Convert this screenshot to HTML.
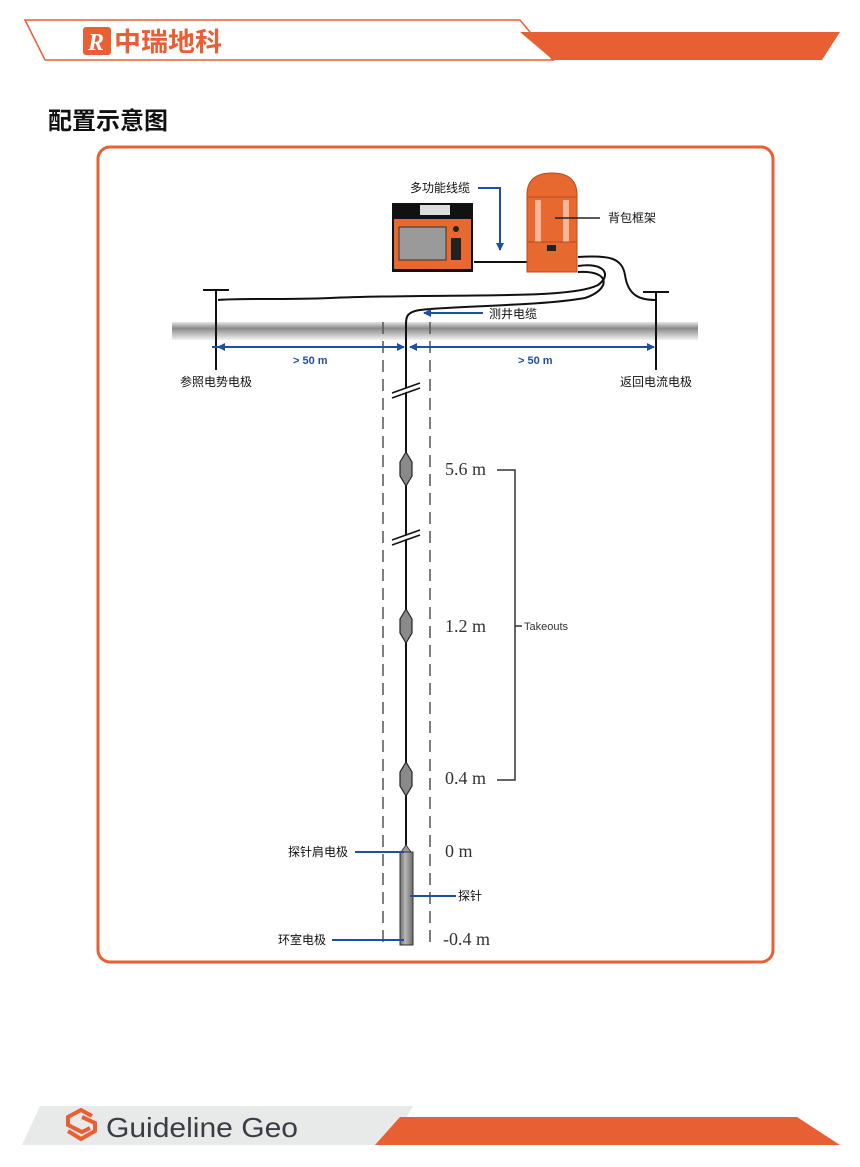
<!DOCTYPE html>
<html><head><meta charset="utf-8"><style>
html,body{margin:0;padding:0;background:#fff;}
svg{display:block;}
.cn{font-family:"Liberation Sans","Noto Sans CJK SC",sans-serif;}
</style></head><body>
<svg width="860" height="1167" viewBox="0 0 860 1167" xmlns="http://www.w3.org/2000/svg">
<defs>
<linearGradient id="gnd" x1="0" y1="0" x2="0" y2="1">
<stop offset="0" stop-color="#e6e6e6"/><stop offset="0.35" stop-color="#8a8a8a"/><stop offset="1" stop-color="#f2f2f2"/>
</linearGradient>
<linearGradient id="probe" x1="0" y1="0" x2="1" y2="0">
<stop offset="0" stop-color="#6c6c6c"/><stop offset="0.4" stop-color="#b8b8b8"/><stop offset="1" stop-color="#6a6a6a"/>
</linearGradient>
<marker id="ah" markerWidth="8" markerHeight="8" refX="7" refY="4" orient="auto" markerUnits="userSpaceOnUse">
<path d="M0,0 L8,4 L0,8 Z" fill="#1f4fa0"/></marker>
</defs>
<polygon points="520,32 840,32 822,60 553,60" fill="#e85f33"/>
<polygon points="25,20 520,20 553,60 45,60" fill="none" stroke="#e85f33" stroke-width="1.5"/>
<rect x="83" y="27" width="28" height="28" rx="3" fill="#e85f33"/>
<text x="88" y="50" font-family="Liberation Serif,serif" font-style="italic" font-weight="bold" font-size="24" fill="#fff">R</text>
<text x="114" y="51" class="cn" font-size="26" font-weight="bold" fill="#e85f33" textLength="108" lengthAdjust="spacingAndGlyphs">中瑞地科</text>
<text x="48" y="129" class="cn" font-size="24" font-weight="bold" fill="#111">配置示意图</text>
<rect x="98" y="147" width="675" height="815" rx="12" fill="#fff" stroke="#e85f33" stroke-width="3"/>
<rect x="172" y="322" width="526" height="18" fill="url(#gnd)"/>
<line x1="383" y1="322" x2="383" y2="946" stroke="#555" stroke-width="1.5" stroke-dasharray="12,7"/>
<line x1="430" y1="322" x2="430" y2="946" stroke="#555" stroke-width="1.5" stroke-dasharray="12,7"/>
<line x1="203" y1="290" x2="229" y2="290" stroke="#111" stroke-width="2"/>
<line x1="216" y1="290" x2="216" y2="370" stroke="#111" stroke-width="2"/>
<line x1="643" y1="292" x2="669" y2="292" stroke="#111" stroke-width="2"/>
<line x1="656" y1="292" x2="656" y2="370" stroke="#111" stroke-width="2"/>
<g fill="none" stroke="#111" stroke-width="2">
<path d="M578,257 C610,255 622,258 625,275 C628,296 640,300 656,300"/>
<path d="M578,266 C605,262 612,275 598,285 C570,300 450,293 330,298 C280,300 240,298 218,300"/>
<path d="M578,272 C612,270 610,290 585,298 C540,306 450,306 420,310 C406,312 406,318 406,324"/>
<line x1="474" y1="262" x2="527" y2="262"/>
<line x1="406" y1="322" x2="406" y2="848"/>
</g>
<g stroke="#111" stroke-width="1.5" fill="#fff">
<polygon points="392,393 420,383 420,387 392,397" stroke="none"/>
<line x1="392" y1="393" x2="420" y2="383"/><line x1="392" y1="398" x2="420" y2="388"/>
<polygon points="392,540 420,530 420,534 392,544" stroke="none"/>
<line x1="392" y1="540" x2="420" y2="530"/><line x1="392" y1="545" x2="420" y2="535"/>
</g>
<g fill="#8a8a8a" stroke="#222" stroke-width="1.2">
<polygon points="406,452 412,462 412,476 406,486 400,476 400,462"/>
<polygon points="406,609 412,619 412,633 406,643 400,633 400,619"/>
<polygon points="406,762 412,772 412,786 406,796 400,786 400,772"/>
</g>
<polygon points="401,852 406,845 411,852" fill="#999" stroke="#444"/>
<rect x="400" y="852" width="13" height="93" fill="url(#probe)" stroke="#333" stroke-width="1"/>
<g font-family="Liberation Serif,serif" font-size="18" fill="#333">
<text x="445" y="475">5.6 m</text><text x="445" y="632">1.2 m</text><text x="445" y="784">0.4 m</text>
<text x="445" y="857">0 m</text><text x="443" y="945">-0.4 m</text>
</g>
<path d="M497,470 H515 V780 H497 M515,626 H522" fill="none" stroke="#333" stroke-width="1.5"/>
<text x="524" y="630" font-family="Liberation Sans,sans-serif" font-size="11" fill="#333">Takeouts</text>
<rect x="392" y="203" width="81" height="69" fill="#111"/>
<rect x="420" y="205" width="30" height="10" fill="#ddd"/>
<rect x="394" y="219" width="77" height="50" fill="#e8692f"/>
<rect x="399" y="227" width="47" height="33" fill="#9a9a9a" stroke="#333"/>
<circle cx="456" cy="229" r="3" fill="#222"/>
<rect x="451" y="238" width="10" height="22" fill="#222"/>
<path d="M527,272 V195 Q527,173 552,173 Q577,173 577,195 V272 Z" fill="#e8692f" stroke="#b84b1f"/>
<rect x="535" y="200" width="6" height="42" fill="#f4b898"/>
<rect x="563" y="200" width="6" height="42" fill="#f4b898"/>
<rect x="547" y="245" width="9" height="6" fill="#222"/>
<line x1="527" y1="242" x2="577" y2="242" stroke="#b84b1f"/>
<line x1="527" y1="197" x2="577" y2="197" stroke="#b84b1f"/>
<g stroke="#1f4fa0" stroke-width="2" fill="none">
<path d="M478,188 H500 V250" marker-end="url(#ah)"/>
<line x1="483" y1="313" x2="424" y2="313" marker-end="url(#ah)"/>
<line x1="212" y1="347" x2="404" y2="347" marker-end="url(#ah)"/>
<line x1="402" y1="347" x2="218" y2="347" marker-end="url(#ah)"/>
<line x1="410" y1="347" x2="654" y2="347" marker-end="url(#ah)"/>
<line x1="652" y1="347" x2="410" y2="347" marker-end="url(#ah)"/>
<line x1="355" y1="852" x2="404" y2="852"/>
<line x1="410" y1="896" x2="456" y2="896"/>
<line x1="332" y1="940" x2="404" y2="940"/>
</g>
<line x1="555" y1="218" x2="600" y2="218" stroke="#222" stroke-width="1.5"/>
<g font-family="Liberation Sans,sans-serif" font-size="11" font-weight="bold" fill="#1f4fa0">
<text x="293" y="364">&gt; 50 m</text><text x="518" y="364">&gt; 50 m</text>
</g>
<g class="cn" font-size="12" fill="#111">
<text x="410" y="192">多功能线缆</text>
<text x="608" y="222">背包框架</text>
<text x="489" y="318">测井电缆</text>
<text x="180" y="386">参照电势电极</text>
<text x="620" y="386">返回电流电极</text>
<text x="288" y="856">探针肩电极</text>
<text x="458" y="900">探针</text>
<text x="278" y="944">环室电极</text>
</g>
<polygon points="40,1106 413,1106 390,1145 22,1145" fill="#e8e9e9"/>
<polygon points="400,1117 797,1117 840,1145 375,1145" fill="#e85f33"/>
<g fill="none" stroke="#e85f33" stroke-width="4" stroke-linejoin="miter">
<path d="M92,1116 L81,1110 L68,1117 L68,1125 L82,1132 L90,1128"/>
<path d="M68,1131 L81,1139 L95,1131 L95,1123 L82,1117"/>
</g>
<text x="106" y="1137" font-family="Liberation Sans,sans-serif" font-size="28" fill="#3a3d45" textLength="192" lengthAdjust="spacingAndGlyphs">Guideline Geo</text>
</svg>
</body></html>
